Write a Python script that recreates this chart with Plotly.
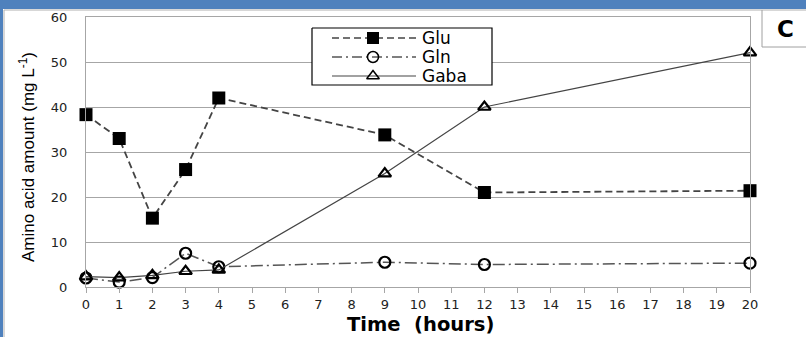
import plotly.graph_objects as go

# Sampling times (hours) and amino acid concentrations (mg/L)
time_h = [0, 1, 2, 3, 4, 9, 12, 20]
glu = [38.3, 33.0, 15.3, 26.1, 42.0, 33.8, 21.0, 21.4]
gln = [2.0, 1.1, 2.1, 7.5, 4.5, 5.5, 5.0, 5.3]
gaba = [2.3, 2.1, 2.6, 3.5, 3.8, 25.2, 40.0, 52.1]

x_ticks = list(range(0, 21))
y_ticks = list(range(0, 61, 10))
series_names = ["Glu", "Gln", "Gaba"]

W, H = 806, 337
L, R, T, B = 86, 750, 17, 287   # plot area in pixels


def px(p):
    return (p - L) / (R - L)


def py(p):
    return (B - p) / (B - T)


WIDE = "DejaVu Sans, Verdana, sans-serif"
NARROW = "Liberation Sans, Arial, sans-serif"
LINE_GREY = "#444444"
GRID = "#a6a6a6"

fig = go.Figure()

fig.add_trace(go.Scatter(
    x=time_h, y=glu, name=series_names[0], mode="lines+markers",
    line=dict(color=LINE_GREY, width=1.8, dash="7px,4px"),
    marker=dict(symbol="square", size=13, color="black"),
    cliponaxis=False, showlegend=False))
fig.add_trace(go.Scatter(
    x=time_h, y=gln, name=series_names[1], mode="lines+markers",
    line=dict(color="#555555", width=1.5, dash="12px,4px,2px,4px"),
    marker=dict(symbol="circle-open", size=11, color="black", line=dict(width=2.2)),
    cliponaxis=False, showlegend=False))
fig.add_trace(go.Scatter(
    x=time_h, y=gaba, name=series_names[2], mode="lines+markers",
    line=dict(color=LINE_GREY, width=1.2),
    marker=dict(symbol="triangle-up-open", size=11, color="black", line=dict(width=2.2)),
    cliponaxis=False, showlegend=False))

# Boxed key drawn on a pixel-scaled overlay axis
key_box = dict(x0=312, x1=492, y0=28, y1=85)
key_rows = [38, 57, 76]
key_line_x = [332, 416]
key_marker_x = 373
key_styles = [
    (dict(color=LINE_GREY, width=1.5, dash="7px,4px"),
     dict(symbol="square", size=12, color="black")),
    (dict(color="#555555", width=1.3, dash="10px,4px,2px,4px"),
     dict(symbol="circle-open", size=11, color="black", line=dict(width=1.5))),
    (dict(color=LINE_GREY, width=1.2),
     dict(symbol="triangle-up-open", size=11, color="black", line=dict(width=1.5))),
]

fig.add_trace(go.Scatter(
    x=[key_box["x0"], key_box["x1"], key_box["x1"], key_box["x0"], key_box["x0"]],
    y=[key_box["y0"], key_box["y0"], key_box["y1"], key_box["y1"], key_box["y0"]],
    mode="lines", fill="toself", fillcolor="white",
    line=dict(color="black", width=1.2),
    xaxis="x2", yaxis="y2", showlegend=False, hoverinfo="skip"))

for row_y, (ln, mk) in zip(key_rows, key_styles):
    fig.add_trace(go.Scatter(
        x=key_line_x, y=[row_y, row_y], mode="lines", line=ln,
        xaxis="x2", yaxis="y2", showlegend=False, hoverinfo="skip"))
    fig.add_trace(go.Scatter(
        x=[key_marker_x], y=[row_y], mode="markers", marker=mk,
        xaxis="x2", yaxis="y2", showlegend=False, hoverinfo="skip"))

annotations = []
for row_y, name in zip(key_rows, series_names):
    annotations.append(dict(
        x=420, y=row_y, xref="x2", yref="y2", text=name, showarrow=False,
        xanchor="left", yanchor="middle",
        font=dict(family=WIDE, size=17, color="black")))

# Y axis title
annotations.append(dict(
    x=px(27), y=py(157), xref="paper", yref="paper",
    text="Amino acid amount (mg L<sup>-1</sup>)", textangle=-90,
    showarrow=False, xanchor="center", yanchor="middle",
    font=dict(family=NARROW, size=17, color="black")))

# X axis title
annotations.append(dict(
    x=px(420), y=py(324), xref="paper", yref="paper",
    text="<b>Time  (hours)</b>",
    showarrow=False, xanchor="center", yanchor="middle",
    font=dict(family=WIDE, size=19.5, color="black")))

# Panel letter
annotations.append(dict(
    x=px(785), y=py(29), xref="paper", yref="paper", text="<b>C</b>",
    showarrow=False, xanchor="center", yanchor="middle",
    font=dict(family=WIDE, size=23, color="black")))

BLUE = "#4f81bd"
shapes = [
    # blue frame: top band and left strip
    dict(type="rect", xref="paper", yref="paper",
         x0=px(-2), x1=px(W + 2), y0=py(9), y1=py(-2),
         fillcolor=BLUE, line=dict(width=0), layer="above"),
    dict(type="rect", xref="paper", yref="paper",
         x0=px(-2), x1=px(3), y0=py(H + 2), y1=py(9),
         fillcolor=BLUE, line=dict(width=0), layer="above"),
    # thin grey inner edge of the frame
    dict(type="line", xref="paper", yref="paper",
         x0=px(4), x1=px(W), y0=py(10), y1=py(10),
         line=dict(color="#b0b0b0", width=1), layer="above"),
    dict(type="line", xref="paper", yref="paper",
         x0=px(4), x1=px(4), y0=py(10), y1=py(H),
         line=dict(color="#b0b0b0", width=1), layer="above"),
    # panel letter box
    dict(type="line", xref="paper", yref="paper",
         x0=px(762), x1=px(762), y0=py(10), y1=py(47),
         line=dict(color="#a0a0a0", width=1), layer="above"),
    dict(type="line", xref="paper", yref="paper",
         x0=px(762), x1=px(W), y0=py(47), y1=py(47),
         line=dict(color="#a0a0a0", width=1), layer="above"),
]

fig.update_layout(
    width=W, height=H,
    margin=dict(l=L, r=W - R, t=T, b=H - B, pad=0, autoexpand=False),
    paper_bgcolor="white", plot_bgcolor="white",
    font=dict(family=WIDE, size=13, color="#222222"),
    showlegend=False,
    xaxis=dict(
        range=[0, 20], tickvals=x_ticks, ticktext=[str(v) for v in x_ticks],
        showgrid=False, zeroline=False, automargin=False,
        showline=True, linecolor=GRID, linewidth=1, mirror=True,
        ticks="outside", ticklen=5, tickcolor=GRID, tickwidth=1,
        tickfont=dict(size=13, color="#222222")),
    # long transparent ticks push the value labels away from the axis
    yaxis=dict(
        range=[0, 60], tickvals=y_ticks,
        showgrid=True, gridcolor=GRID, gridwidth=1, zeroline=False,
        automargin=False,
        showline=True, linecolor=GRID, linewidth=1, mirror=True,
        ticks="outside", ticklen=15, tickcolor="rgba(0,0,0,0)", tickwidth=1,
        tickfont=dict(size=13, color="#222222")),
    xaxis2=dict(overlaying="x", range=[L, R], visible=False, fixedrange=True,
                automargin=False),
    yaxis2=dict(overlaying="y", range=[B, T], visible=False, fixedrange=True,
                automargin=False),
    # short visible tick marks on the value axis
    yaxis3=dict(overlaying="y", range=[0, 60], tickvals=y_ticks,
                showticklabels=False, showgrid=False, zeroline=False,
                showline=False, ticks="outside", ticklen=5, tickcolor=GRID,
                tickwidth=1, automargin=False, fixedrange=True),
    annotations=annotations,
    shapes=shapes,
)

fig.write_html("out.html")
